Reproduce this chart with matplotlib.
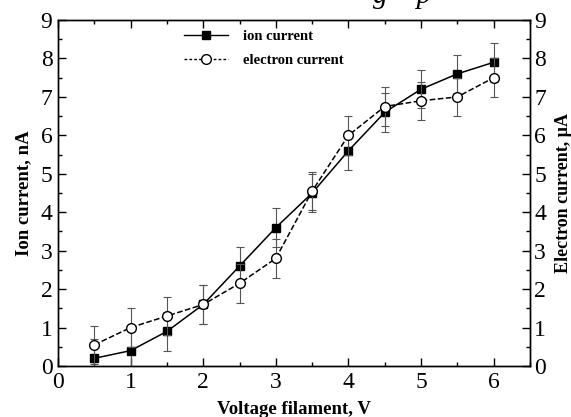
import numpy as np
import matplotlib
matplotlib.use('Agg')
from matplotlib import pyplot as plt
from matplotlib.ticker import MultipleLocator
from matplotlib.lines import Line2D

voltage = [0.5, 1.0, 1.5, 2.0, 2.5, 3.0, 3.5, 4.0, 4.5, 5.0, 5.5, 6.0]
ion_current = [0.2, 0.4, 0.9, 1.6, 2.6, 3.6, 4.5, 5.6, 6.6, 7.2, 7.6, 7.9]
ion_err = [0.5] * 12
electron_current = [0.55, 1.0, 1.3, 1.6, 2.15, 2.8, 4.55, 6.0, 6.75, 6.9, 7.0, 7.5]
electron_err = [0.5] * 12

plt.rcParams['font.family'] = ['Liberation Serif', 'DejaVu Serif']

fig = plt.figure(figsize=(5.71, 4.17), dpi=100)
ax = fig.add_axes([0.1016, 0.1223, 0.8266, 0.8297])
ax2 = ax.twinx()

ax.errorbar(voltage, ion_current, yerr=ion_err, color='black', ecolor='#555555',
            elinewidth=0.8, capsize=3, capthick=0.8, lw=1.1,
            marker='s', ms=6, mfc='black', mec='black')
ax2.errorbar(voltage, electron_current, yerr=electron_err, color='black', ecolor='#555555',
             elinewidth=0.8, capsize=3, capthick=0.8, lw=1.1, ls='--',
             marker='o', ms=7, mfc='white', mec='black')

for a in (ax, ax2):
    a.set_ylim(0, 9)
    a.yaxis.set_major_locator(MultipleLocator(1))
    a.yaxis.set_minor_locator(MultipleLocator(0.5))
    a.tick_params(which='both', direction='in', labelsize=17, width=1)
    a.tick_params(which='major', length=6, pad=4)
    a.tick_params(which='minor', length=3)
    for s in a.spines.values():
        s.set_linewidth(1)
ax2.tick_params(which='major', pad=3)

ax.set_xlim(0, 6.5)
ax.xaxis.set_major_locator(MultipleLocator(1))
ax.xaxis.set_minor_locator(MultipleLocator(0.5))
ax.tick_params(axis='x', which='both', top=True)

ax.set_xlabel('Voltage filament, V', fontsize=13.5, fontweight='bold', labelpad=6)
ax.set_ylabel('Ion current, nA', fontsize=13.5, fontweight='bold', labelpad=6)
ax2.set_ylabel('Electron current, µA', fontsize=13, fontweight='bold')
ax2.yaxis.set_label_coords(1.052, 0.5)

handles = [Line2D([], [], color='black', lw=1, marker='s', ms=6, mfc='black'),
           Line2D([], [], color='black', lw=1, ls=(0, (2, 1.5)), marker='o', ms=7, mfc='white')]
ax2.legend(handles, ['ion current', 'electron current'], loc='upper left',
           bbox_to_anchor=(0.24, 1.01), frameon=False,
           prop={'weight': 'bold', 'size': 10.5},
           handlelength=3, handletextpad=1.0, labelspacing=0.75)

fig.text(0.705, 1 - 3 / 417, 'g    p', fontsize=21, style='italic', ha='center', va='baseline')

plt.savefig('out.png', dpi=100)
